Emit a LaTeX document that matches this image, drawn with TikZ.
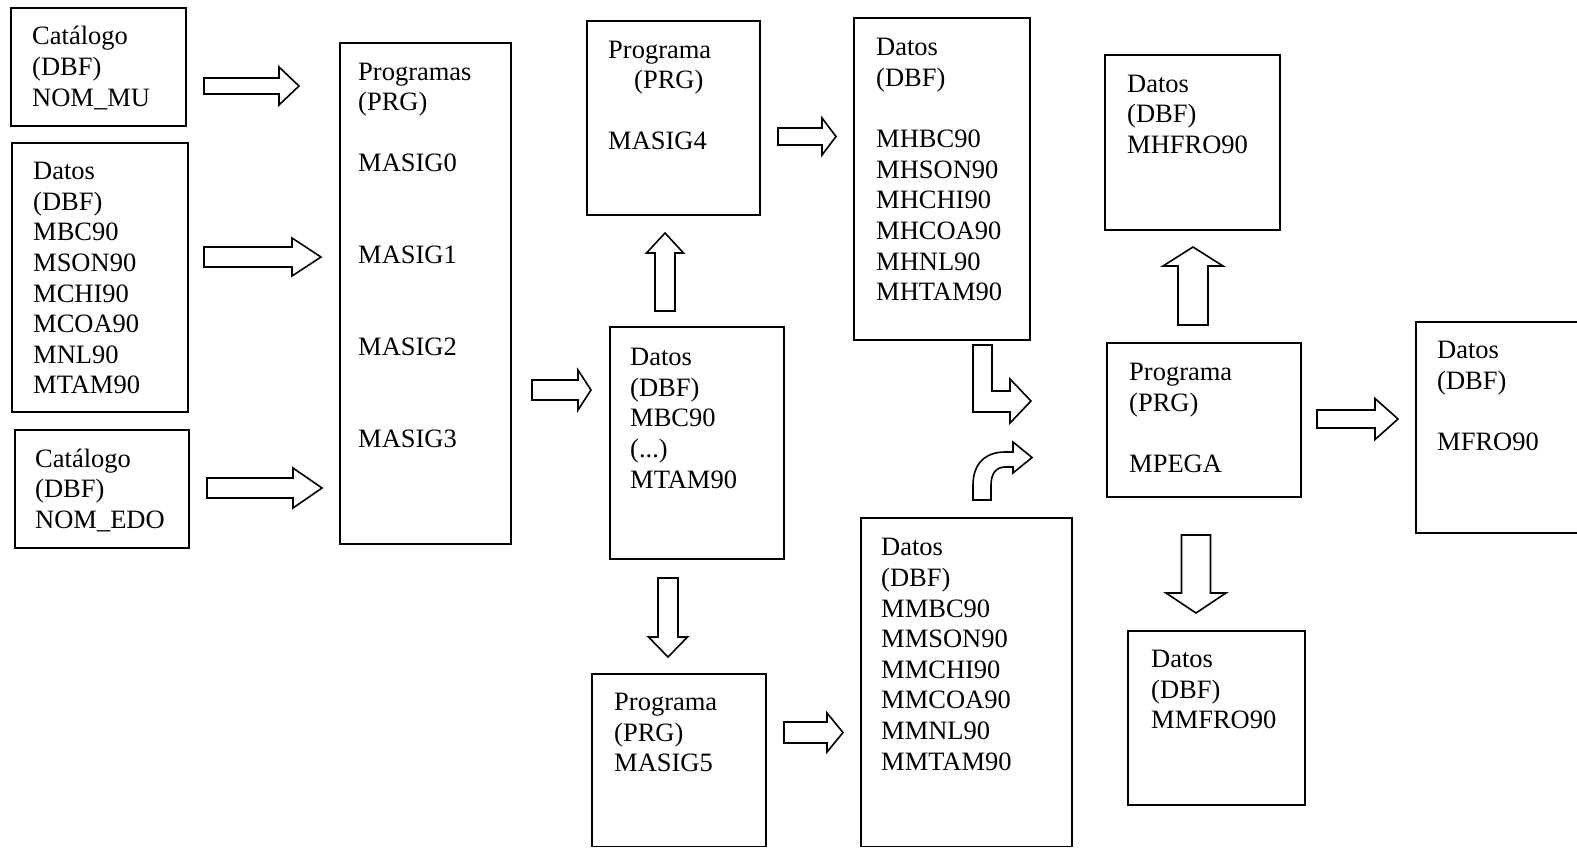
\documentclass[tikz,border=0pt]{standalone}
\usepackage{fontspec}
\setmainfont{Liberation Serif}
\newcommand\arrR[6]{\draw[blk] ({#1},{#4-#5}) -- ({#2},{#4-#5}) -- ({#2},{#4-#6}) -- ({#3},{#4}) -- ({#2},{#4+#6}) -- ({#2},{#4+#5}) -- ({#1},{#4+#5}) -- cycle;}
\newcommand\arrV[6]{\draw[blk] ({#1-#5},{#2}) -- ({#1-#5},{#3}) -- ({#1-#6},{#3}) -- ({#1},{#4}) -- ({#1+#6},{#3}) -- ({#1+#5},{#3}) -- ({#1+#5},{#2}) -- cycle;}
\newcommand\tl[1]{\begin{tabular}[t]{@{}l@{}}#1\end{tabular}}
\tikzset{
  box/.style={draw, line width=1.7pt, inner sep=0pt, outer sep=0pt, anchor=north west},
  txt/.style={inner sep=0pt, anchor=base west, font=\fontsize{26.5}{30.6}\selectfont},
  blk/.style={draw, line width=1.6pt, line join=miter, fill=white}
}
\begin{document}
\begin{tikzpicture}[x=1pt,y=-1pt]
\useasboundingbox (0,0) rectangle (1577,847);
\clip (0,0) rectangle (1577,847);
% boxes
\node[box, minimum width=175pt, minimum height=118pt] (b1) at (11,8) {};
\node[box, minimum width=176pt, minimum height=269pt] (b2) at (12,143) {};
\node[box, minimum width=174pt, minimum height=118pt] (b3) at (15,430) {};
\node[box, minimum width=171pt, minimum height=501pt] (b4) at (340,43) {};
\node[box, minimum width=173pt, minimum height=194pt] (b5) at (587,21) {};
\node[box, minimum width=174pt, minimum height=232pt] (b6) at (610,327) {};
\node[box, minimum width=174pt, minimum height=172.5pt] (b7) at (592,674) {};
\node[box, minimum width=211pt, minimum height=328.5pt] (b9) at (861,518) {};
\node[box, minimum width=176pt, minimum height=322pt] (b8) at (854,18) {};
\node[box, minimum width=175pt, minimum height=175pt] (b10) at (1105,55) {};
\node[box, minimum width=194pt, minimum height=154pt] (b11) at (1107,343) {};
\node[box, minimum width=177pt, minimum height=174pt] (b12) at (1128,631) {};
\node[box, minimum width=184pt, minimum height=211pt] (b13) at (1416,322) {};
% texts
\node[txt] (t1) at (32,44.8) {\tl{Catálogo\\(DBF)\\NOM\_MU}};
\node[txt] (t2) at (33,179.6) {\tl{Datos\\(DBF)\\MBC90\\MSON90\\MCHI90\\MCOA90\\MNL90\\MTAM90}};
\node[txt] (t3) at (35,467.3) {\tl{Catálogo\\(DBF)\\NOM\_EDO}};
\node[txt] (t4) at (358,80) {\tl{Programas\\(PRG)\\ \\MASIG0\\ \\ \\MASIG1\\ \\ \\MASIG2\\ \\ \\MASIG3}};
\node[txt] (t5) at (608,58) {\tl{Programa\\\hspace{26pt}(PRG)\\ \\MASIG4}};
\node[txt] (t6) at (630,365.7) {\tl{Datos\\(DBF)\\MBC90\\(...)\\MTAM90}};
\node[txt] (t7) at (614,710.7) {\tl{Programa\\(PRG)\\MASIG5}};
\node[txt] (t8) at (876,55.8) {\tl{Datos\\(DBF)\\ \\MHBC90\\MHSON90\\MHCHI90\\MHCOA90\\MHNL90\\MHTAM90}};
\node[txt] (t9) at (881,555.8) {\tl{Datos\\(DBF)\\MMBC90\\MMSON90\\MMCHI90\\MMCOA90\\MMNL90\\MMTAM90}};
\node[txt] (t10) at (1127,92) {\tl{Datos\\(DBF)\\MHFRO90}};
\node[txt] (t11) at (1129,380.8) {\tl{Programa\\(PRG)\\ \\MPEGA}};
\node[txt] (t12) at (1151,667.5) {\tl{Datos\\(DBF)\\MMFRO90}};
\node[txt] (t13) at (1437,358.6) {\tl{Datos\\(DBF)\\ \\MFRO90}};
% block arrows
\arrR{204}{279}{299}{86}{8}{19}
\arrR{204}{292}{321}{257}{10}{19}
\arrR{207}{293}{322}{488}{10}{20}
\arrR{532}{578}{591}{390}{10}{20}
\arrR{778}{822}{836}{136.5}{8.5}{18.5}
\arrV{665}{311}{253}{233}{10}{18.5}
\arrV{668}{578}{637}{657}{10}{19.5}
\arrR{784}{827}{843}{732.5}{10.5}{19.5}
\arrV{1193}{325}{266}{247}{15}{30}
\arrV{1196}{535}{593}{613}{14.5}{30}
\arrR{1317}{1375}{1398}{419}{9}{20.5}
% L-shaped arrow
\draw[blk] (973,345) -- (992,345) -- (992,391) -- (1010,391) -- (1010,379) -- (1031,401) -- (1010,423) -- (1010,412) -- (973,412) -- cycle;
% curved arrow
\draw[blk] (973,500) -- (973,485) .. controls (973,464) and (985,452) .. (1005,452) -- (1013,452) -- (1013,442) -- (1032,457.5) -- (1013,473) -- (1013,467) -- (1005,467) .. controls (996,467) and (991,474) .. (991,485) -- (991,500) -- cycle;
\end{tikzpicture}
\end{document}
